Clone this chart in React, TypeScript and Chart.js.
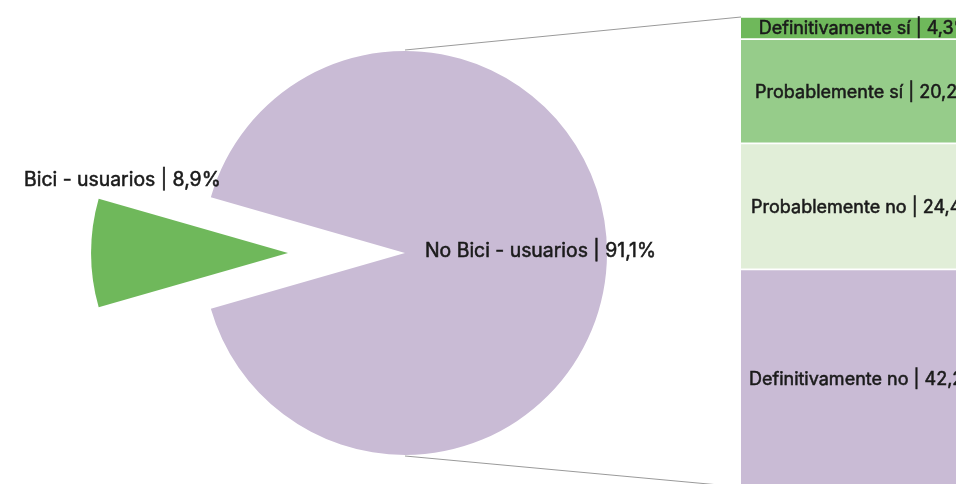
import React, { useEffect, useRef } from "react";
import { Chart, registerables } from "chart.js";

Chart.register(...registerables);

// ---- data ----
const pieLabels = ["Bici - usuarios", "No Bici - usuarios"];
const pieValues = [8.9, 91.1];
const pieColors = ["#6FB85B", "#C9BBD5"];

const barLabels = ["Definitivamente sí", "Probablemente sí", "Probablemente no", "Definitivamente no"];
const barValues = [4.3, 20.2, 24.4, 42.2];
const barColors = ["#6FB85B", "#96CC8A", "#E1EED8", "#C9BBD5"];

const FONT = "400 19.4px Inter, 'Noto Sans', sans-serif";
const BAR_FONT = "400 18px Inter, 'Noto Sans', sans-serif";
const TEXT_COLOR = "#1b1b1b";

const fmt = (v: number) => v.toFixed(1).replace(".", ",") + "%";

function drawLabel(ctx: CanvasRenderingContext2D, text: string, x: number, y: number) {
  ctx.fillText(text, x, y);
  ctx.lineWidth = 0.55;
  ctx.strokeStyle = TEXT_COLOR;
  ctx.strokeText(text, x, y);
}

export default function App() {
  const pieRef = useRef<HTMLCanvasElement | null>(null);
  const barRef = useRef<HTMLCanvasElement | null>(null);

  useEffect(() => {
    if (!pieRef.current || !barRef.current) return;
    const barCanvas = barRef.current;
    const pieCanvas = pieRef.current;

    // stacked bar: bottom-first order
    const order = [3, 2, 1, 0];
    const barLabelPlugin = {
      id: "barLabels",
      afterDatasetsDraw(chart: any) {
        const ctx = chart.ctx;
        ctx.save();
        ctx.font = BAR_FONT;
        ctx.fillStyle = TEXT_COLOR;
        ctx.textAlign = "center";
        ctx.textBaseline = "middle";
        chart.data.datasets.forEach((ds: any, di: number) => {
          const el = chart.getDatasetMeta(di).data[0];
          const { x, y, base } = el.getProps(["x", "y", "base"], true);
          drawLabel(ctx, ds.label + " | " + fmt(ds.data[0]), x, (y + base) / 2 + 1);
        });
        ctx.restore();
      },
    };

    const barChart = new Chart(barCanvas, {
      type: "bar",
      data: {
        labels: [""],
        datasets: order.map((i) => ({
          label: barLabels[i],
          data: [barValues[i]],
          backgroundColor: barColors[i],
          borderColor: "#ffffff",
          borderWidth: { top: 1.2, bottom: 1.2, left: 0, right: 0 },
          borderSkipped: false,
          barPercentage: 1,
          categoryPercentage: 1,
        })),
      },
      options: {
        responsive: false,
        animation: false,
        layout: { padding: { top: 16, bottom: 14, left: 0, right: 0 } },
        plugins: { legend: { display: false }, tooltip: { enabled: false } },
        scales: {
          x: { stacked: true, display: false },
          y: {
            stacked: true,
            display: false,
            min: 0,
            max: barValues.reduce((a, b) => a + b, 0),
          },
        },
      },
      plugins: [barLabelPlugin],
    });

    const total = pieValues.reduce((a, b) => a + b, 0);
    const explodeIndex = 0;
    const explode = 117;
    const explodeScale = 0.975;

    const piePlugin = {
      id: "pieOfBar",
      beforeDatasetDraw(chart: any, args: any) {
        const ctx = chart.ctx;
        args.meta.data.forEach((arc: any, i: number) => {
          ctx.save();
          if (i === explodeIndex) {
            const mid = (arc.startAngle + arc.endAngle) / 2;
            const tx = arc.x + Math.cos(mid) * explode;
            const ty = arc.y + Math.sin(mid) * explode;
            ctx.translate(tx, ty);
            ctx.scale(explodeScale, explodeScale);
            ctx.translate(-arc.x, -arc.y);
          }
          arc.draw(ctx);
          ctx.restore();
        });
        return false;
      },
      afterDatasetsDraw(chart: any) {
        const ctx = chart.ctx;
        const meta = chart.getDatasetMeta(0);
        const big = meta.data[1];
        const small = meta.data[0];
        const cx = big.x;
        const cy = big.y;
        const r = big.outerRadius;

        // connector lines to the bar
        const dx = barCanvas.offsetLeft - pieCanvas.offsetLeft;
        const dy = barCanvas.offsetTop - pieCanvas.offsetTop;
        const bm = barChart.getDatasetMeta(barChart.data.datasets.length - 1).data[0] as any;
        const bb = barChart.getDatasetMeta(0).data[0] as any;
        const left = bm.x - bm.width / 2 + dx;
        const top = bm.y + dy;
        const bottom = bb.base + dy;
        ctx.save();
        ctx.strokeStyle = "#9a9a9a";
        ctx.lineWidth = 1;
        ctx.beginPath();
        ctx.moveTo(cx, cy - r - 1);
        ctx.lineTo(left, top);
        ctx.moveTo(cx, cy + r + 1);
        ctx.lineTo(left, bottom);
        ctx.stroke();

        // labels
        ctx.font = FONT;
        ctx.fillStyle = TEXT_COLOR;
        ctx.textBaseline = "middle";
        ctx.textAlign = "left";
        drawLabel(ctx, pieLabels[1] + " | " + fmt(pieValues[1]), cx + 20, cy - 2);
        const mid = (small.startAngle + small.endAngle) / 2;
        const sx = small.x + Math.cos(mid) * explode;
        const sy = small.y + Math.sin(mid) * explode;
        ctx.textAlign = "center";
        drawLabel(ctx, pieLabels[0] + " | " + fmt(pieValues[0]), sx - r * 0.82, sy - r * 0.36);
        ctx.restore();
      },
    };

    const pieChart = new Chart(pieCanvas, {
      type: "pie",
      data: {
        labels: pieLabels,
        datasets: [
          {
            data: pieValues,
            backgroundColor: pieColors,
            borderWidth: 0,
          },
        ],
      },
      options: {
        responsive: false,
        animation: false,
        radius: 202,
        rotation: 90 + 180 - (pieValues[explodeIndex] / total) * 180,
        layout: { padding: { top: 22, right: 146, left: 0, bottom: 0 } },
        plugins: { legend: { display: false }, tooltip: { enabled: false } },
      } as any,
      plugins: [piePlugin],
    });

    return () => {
      pieChart.destroy();
      barChart.destroy();
    };
  }, []);

  return (
    <div
      style={{
        position: "fixed",
        left: 0,
        top: 0,
        width: 956,
        height: 484,
        overflow: "hidden",
        background: "#ffffff",
      }}
    >
      <canvas
        ref={pieRef}
        width={956}
        height={484}
        style={{ position: "absolute", left: 0, top: 0, width: 956, height: 484 }}
      />
      <canvas
        ref={barRef}
        width={248}
        height={500}
        style={{ position: "absolute", left: 741, top: 1, width: 248, height: 500 }}
      />
    </div>
  );
}
